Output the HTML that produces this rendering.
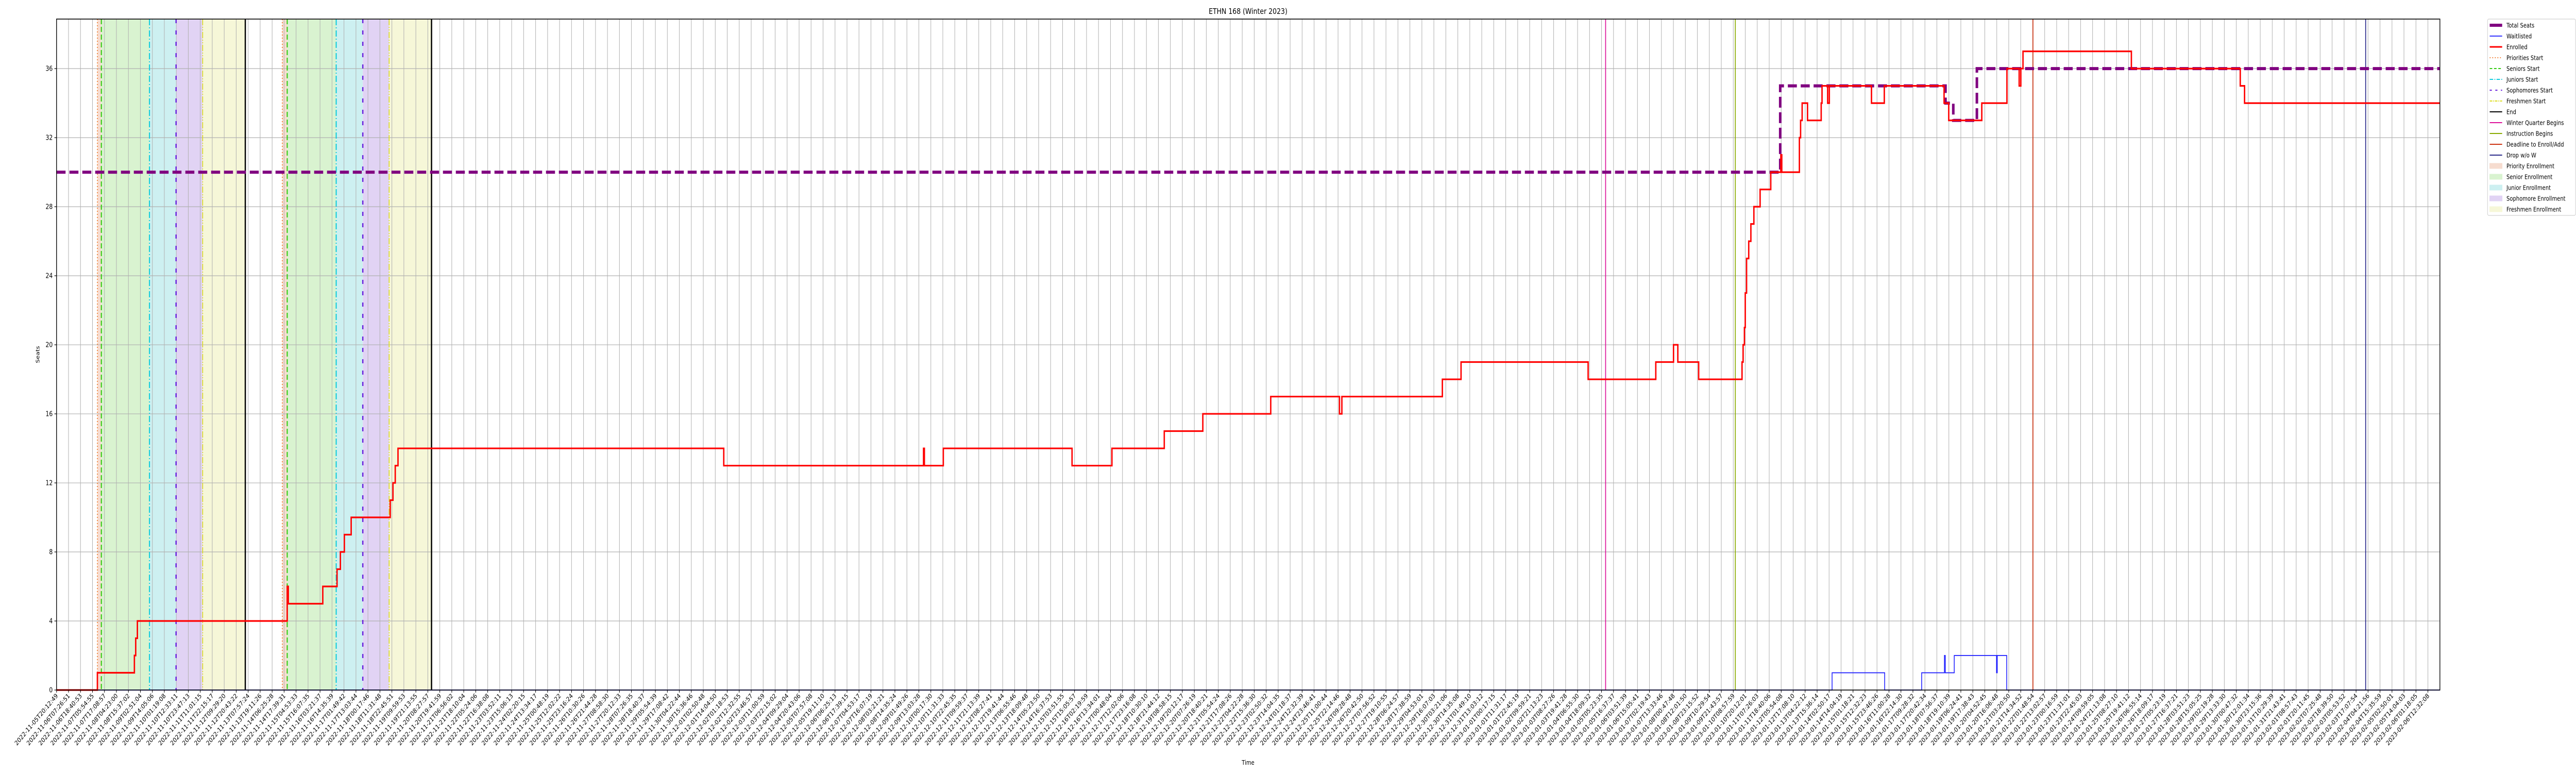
<!DOCTYPE html>
<html><head><meta charset="utf-8">
<style>
html,body{margin:0;padding:0;background:#fff;overflow:hidden;width:100%;height:100%;}
svg{display:block;width:100vw;height:100vh;font-family:"DejaVu Sans","Liberation Sans",sans-serif;}
</style></head>
<body>
<svg id="chart" viewBox="0 0 6000 1500" preserveAspectRatio="none" xmlns="http://www.w3.org/2000/svg">
<defs><clipPath id="pageclip"><rect x="0" y="0" width="6000" height="1500"/></clipPath></defs>
<g clip-path="url(#pageclip)">
<rect x="0" y="0" width="6000" height="1500" fill="#fff"/>
<g id="shades"></g><g id="grid"></g><g id="events"></g><g id="series"></g><g id="axes"></g><g id="legend"></g>
<text x="2907" y="27" font-size="15" text-anchor="middle">ETHN 168 (Winter 2023)</text>
<text x="0" y="0" font-size="12" text-anchor="middle" transform="translate(92,688) rotate(-90)">Seats</text>
<text x="2907" y="1484" font-size="12" text-anchor="middle">Time</text>
</g>
</svg>
<script>
// ---- data (x in tick-index units) ----
const yTicks = [0,4,8,12,16,20,24,28,32,36];
const tickCount = 199;
const tickStart = "2022-11-05T20:12:49";
const tickEnd = "2023-02-06T12:32:08";
const totalX = [0, 143.92, 157.72, 158.37, 160.34, 199];
const totalY = [30, 35, 34, 33, 36, 36];
const enrolledX = [0,3.41,6.50,6.61,6.75,19.26,19.35,22.23,23.42,23.70,24.03,24.60,27.86,28.09,28.28,28.51,55.71,72.39,72.46,74.04,84.79,88.12,92.49,95.71,101.38,107.12,107.32,115.71,117.27,127.88,133.53,135.01,135.37,137.11,140.73,140.82,140.93,141.00,141.11,141.29,141.47,141.72,142.24,143.13,143.97,144.05,145.52,145.62,145.75,146.20,147.34,147.41,147.88,148.02,151.54,152.61,157.60,157.99,160.75,162.85,163.87,164.01,164.19,173.24,182.33,182.69,199];
const enrolledY = [0,1,2,3,4,6,5,6,7,8,9,10,11,12,13,14,13,14,13,14,13,14,15,16,17,16,17,18,19,18,19,20,19,18,19,20,21,23,25,26,27,28,29,30,31,30,32,33,34,33,34,35,34,35,34,35,34,33,34,36,35,36,37,36,35,34,34];
const waitX = [0,148.25,152.64,155.73,157.63,157.70,158.45,161.98,162.04,162.83,199];
const waitY = [0,1,0,1,2,1,2,1,2,0,0];
const shadeNames = ["priority","senior","junior","sophomore","freshmen"];
const shadeStart1 = [3.41,3.74,7.76,9.98,12.20];
const shadeEnd1 = [3.74,7.76,9.98,12.20,15.76];
const shadeStart2 = [18.85,19.26,23.35,25.57,27.77];
const shadeEnd2 = [19.26,23.35,25.57,27.77,31.31];
const roundLines1 = [3.41,3.74,7.76,9.98,12.20,15.76];
const roundLines2 = [18.85,19.26,23.35,25.57,27.77,31.31];
const quarterEvents = [129.34,140.17,165.02,192.80];

// ---- geometry ----
const L=131.7, R=5683, T=37, B=1339, XMAX=199, YMAX=38.87;
const xs = u => L + u*(R-L)/XMAX;
const ys = v => B - v*(B-T)/YMAX;
const NS="http://www.w3.org/2000/svg";
function mk(tag, parent, attrs){const e=document.createElementNS(NS,tag);for(const k in attrs)e.setAttribute(k,attrs[k]);document.getElementById(parent).appendChild(e);return e;}

const shadeColors = ["#f6dccf","#d9f3d0","#cdf0f1","#e1d3f4","#f6f7d8"];
for(let i=0;i<5;i++){
  const a=mk("rect","shades",{x:xs(shadeStart1[i]),y:T,width:xs(shadeEnd1[i])-xs(shadeStart1[i]),height:B-T,fill:shadeColors[i]});
  
  
  const b=mk("rect","shades",{x:xs(shadeStart2[i]),y:T,width:xs(shadeEnd2[i])-xs(shadeStart2[i]),height:B-T,fill:shadeColors[i]});
  
  
}
// grid
for(let i=0;i<tickCount;i++){
  const g=mk("line","grid",{x1:xs(i),x2:xs(i),y1:T,y2:B,stroke:"#b0b0b0","stroke-width":1.2});
  
  
}
yTicks.forEach(v=>{
  const g=mk("line","grid",{x1:L,x2:R,y1:ys(v),y2:ys(v),stroke:"#b0b0b0","stroke-width":1.2});
  
  
});
// event lines
const lineStyles=[
 {c:"#f07828",d:"2,4",w:2,n:"priorities-start"},
 {c:"#33cc11",d:"10,5",w:2.5,n:"seniors-start"},
 {c:"#11ccdd",d:"12,4,2,4",w:2.5,n:"juniors-start"},
 {c:"#6a22dd",d:"8,14",w:3,n:"sophomores-start"},
 {c:"#dddd22",d:"12,3,2,3,2,3",w:2,n:"freshmen-start"},
 {c:"#000",d:"",w:3,n:"end"}];
[roundLines1,roundLines2].forEach((arr,r)=>arr.forEach((u,i)=>{
  const s=lineStyles[i];
  const e=mk("line","events",{x1:xs(u),x2:xs(u),y1:T,y2:B,stroke:s.c,"stroke-width":s.w,"stroke-dasharray":s.d});
  
  
}));
const qColors=["#dd1199","#88aa00","#cc3311","#2a2a8a"];
const qNames=["winter-quarter-begins","instruction-begins","deadline-to-enroll","drop-without-w"];
quarterEvents.forEach((u,i)=>{
  const e=mk("line","events",{x1:xs(u),x2:xs(u),y1:T,y2:B,stroke:qColors[i],"stroke-width":2});
  
  
});
// step series
function stepPath(X,Y){let d="M"+xs(X[0])+","+ys(Y[0]);for(let i=1;i<X.length;i++){d+=" H"+xs(X[i])+" V"+ys(Y[i]);}return d;}
const tp=mk("path","series",{d:stepPath(totalX,totalY),fill:"none",stroke:"#800080","stroke-width":6,"stroke-dasharray":"21,9"});


const wp=mk("path","series",{d:stepPath(waitX,waitY),fill:"none",stroke:"#1a1aff","stroke-width":1.8});


const ep=mk("path","series",{d:stepPath(enrolledX,enrolledY),fill:"none",stroke:"#ff0000","stroke-width":3.2});


// axes frame
const fr=mk("rect","axes",{x:L,y:T,width:R-L,height:B-T,fill:"none",stroke:"#000","stroke-width":1.6});


yTicks.forEach(v=>{
  const t=mk("line","axes",{x1:L-5,x2:L,y1:ys(v),y2:ys(v),stroke:"#000","stroke-width":1.2});
  
  
  const tx=mk("text","axes",{x:L-9,y:ys(v)+4.5,"font-size":13,"text-anchor":"end",fill:"#000"});
  tx.textContent=v;
  
  
});
const t0=Date.parse(tickStart+"Z"), t1=Date.parse(tickEnd+"Z");
for(let i=0;i<tickCount;i++){
  const x=xs(i);
  const t=mk("line","axes",{x1:x,x2:x,y1:B,y2:B+5,stroke:"#000","stroke-width":1.2});
  
  
  const d=new Date(t0+(t1-t0)*i/(tickCount-1));
  const lbl=d.toISOString().slice(0,19);
  const tx=mk("text","axes",{x:0,y:0,"font-size":12.5,"text-anchor":"end",fill:"#000",transform:"translate("+(x+4)+","+(B+12)+") rotate(-45)"});
  tx.textContent=lbl;
  
  
}
// legend
const lg=mk("rect","legend",{x:5794,y:37,width:205,height:381,fill:"#fff",stroke:"#d0d0d0","stroke-width":1.2,rx:3});


const legItems=[
 ["Total Seats","#800080",6,"","line"],["Waitlisted","#1a1aff",1.8,"","line"],["Enrolled","#ff0000",3,"","line"],
 ["Priorities Start","#f07828",2,"2,4","line"],["Seniors Start","#33cc11",2,"6,4","line"],["Juniors Start","#11ccdd",2,"8,3,2,3","line"],
 ["Sophomores Start","#6a22dd",2,"5,8","line"],["Freshmen Start","#dddd22",2,"6,2,2,2","line"],["End","#000",2,"","line"],
 ["Winter Quarter Begins","#dd1199",2,"","line"],["Instruction Begins","#88aa00",2,"","line"],["Deadline to Enroll/Add","#cc3311",2,"","line"],
 ["Drop w/o W","#2a2a8a",2,"","line"],
 ["Priority Enrollment","#f6dccf",0,"","box"],["Senior Enrollment","#d9f3d0",0,"","box"],["Junior Enrollment","#cdf0f1",0,"","box"],
 ["Sophomore Enrollment","#e1d3f4",0,"","box"],["Freshmen Enrollment","#f6f7d8",0,"","box"]];
legItems.forEach((it,i)=>{
  const y=49+i*21;
  let h;
  if(it[4]==="line"){h=mk("line","legend",{x1:5799,x2:5828,y1:y,y2:y,stroke:it[1],"stroke-width":it[2],"stroke-dasharray":it[3]});}
  else {h=mk("rect","legend",{x:5799,y:y-5,width:29,height:10,fill:it[1],stroke:it[1]});}
  
  
  const tx=mk("text","legend",{x:5838,y:y+4.5,"font-size":12,fill:"#000"});
  tx.textContent=it[0];
  
  
});
</script>
</body></html>
